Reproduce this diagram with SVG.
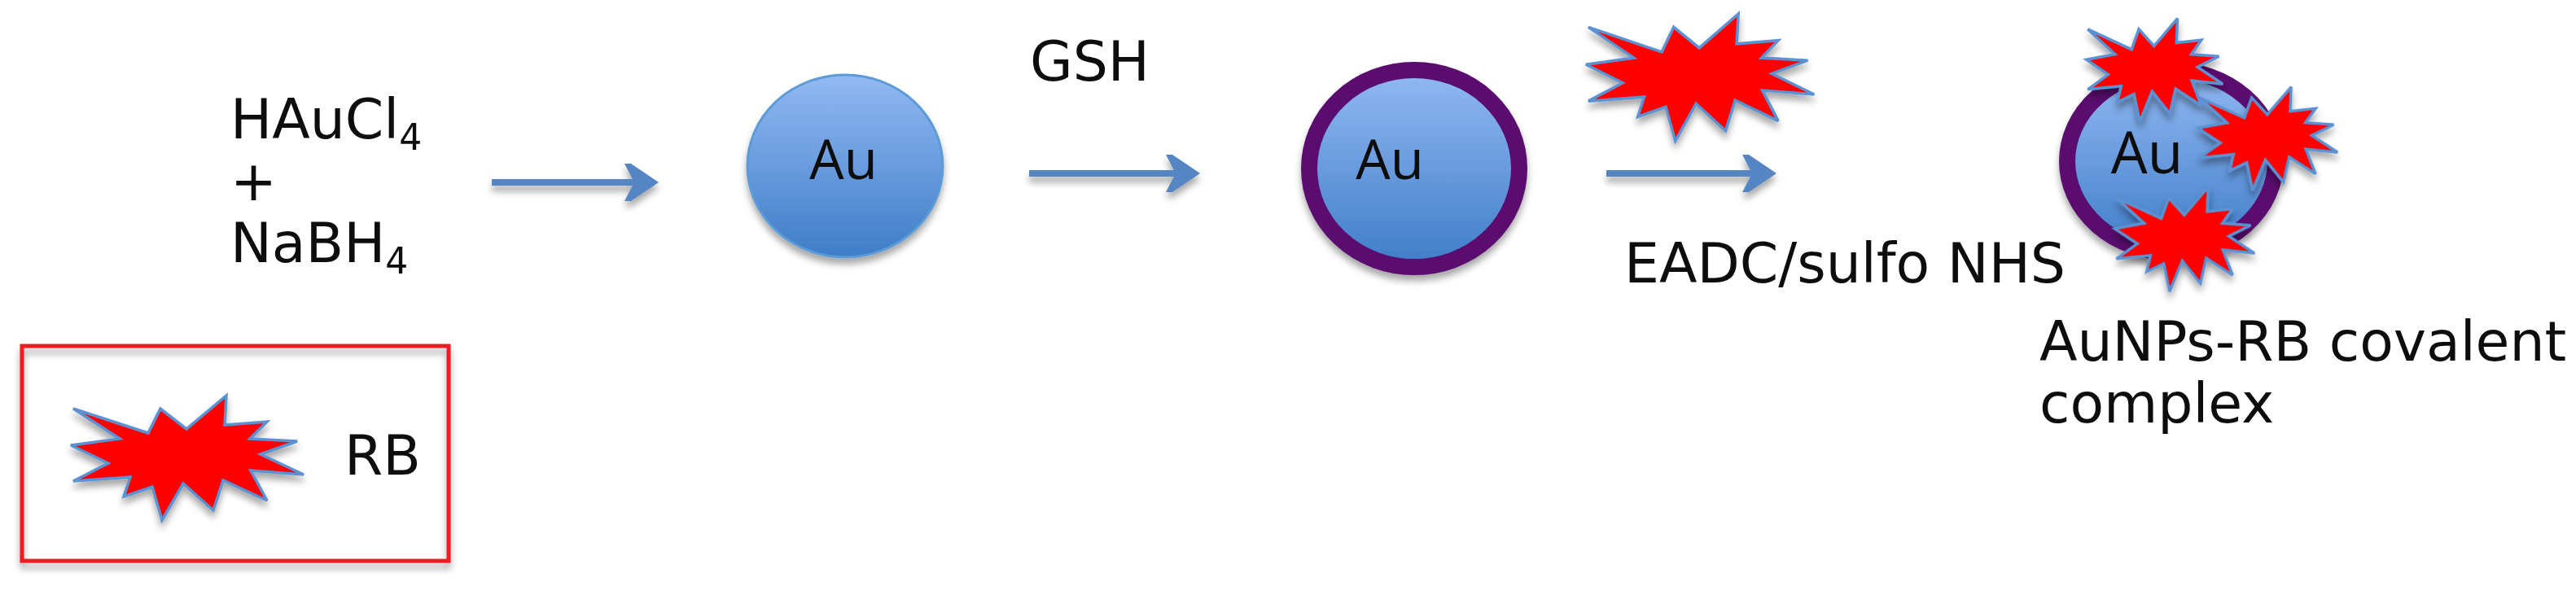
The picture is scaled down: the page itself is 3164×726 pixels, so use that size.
<svg xmlns="http://www.w3.org/2000/svg" width="3164" height="726" viewBox="0 0 3164 726">
<style>
text{font-family:"DejaVu Sans","Liberation Sans",sans-serif;font-size:68px;fill:#0c0c0c}
.au{font-family:"Open Sans","Liberation Sans",sans-serif;font-size:67px}
.au-big{font-size:71px}
.t{filter:url(#soft)}
.sub{font-size:44px}
.star{fill:#ff0000;stroke:#5b92d2;stroke-width:3.5;stroke-linejoin:miter;stroke-miterlimit:3;vector-effect:non-scaling-stroke}
.arrow{fill:none;stroke:#5585c2;stroke-width:8;marker-end:url(#head)}
.core{fill:url(#gold);stroke:#5b9bd5;stroke-width:3}
.ring{fill:url(#gold);stroke:#5a0a6e;stroke-width:20}
</style>
<defs>
<linearGradient id="gold" x1="0" y1="0" x2="0" y2="1"><stop offset="0" stop-color="#92b9f3"/><stop offset="1" stop-color="#3f7dc8"/></linearGradient>
<filter id="shadow" filterUnits="userSpaceOnUse" x="0" y="0" width="3164" height="726"><feDropShadow dx="0" dy="7" stdDeviation="4" flood-color="#000" flood-opacity=".35"/></filter>
<filter id="soft" filterUnits="userSpaceOnUse" x="0" y="0" width="3164" height="726"><feGaussianBlur stdDeviation=".7"/></filter>
<marker id="head" markerUnits="userSpaceOnUse" markerWidth="46" markerHeight="50" refX="36" refY="25" orient="auto" overflow="visible"><path d="M0,2 L8,2 L42,25 L8,48 L0,48 L12,25 Z" fill="#5585c2"/></marker>
<polygon id="burst" class="star" points="4,18 96,48 111,18 143,43 192,2 190,38 242,34 221,55 279,58 234,74 287,99 222,94 242,131 188,106 176,143 139,110 113,155 101,114 66,126 74,102 4,107 47,85 1,63 61,55"/>
</defs>
<rect width="3164" height="726" fill="#fff"/>
<g id="connectors" filter="url(#shadow)">
<line class="arrow" x1="604" y1="224" x2="803" y2="224"/>
<line class="arrow" x1="1264" y1="213" x2="1468" y2="213"/>
<line class="arrow" x1="1973" y1="213" x2="2176" y2="213"/>
</g>
<g id="reactants"><text class="t" x="283" y="170">HAuCl<tspan class="sub" dy="14">4</tspan></text><text class="t" x="283" y="246">+</text><text class="t" x="283" y="322">NaBH<tspan class="sub" dy="14">4</tspan></text></g>
<g id="au-particle"><ellipse class="core" filter="url(#shadow)" cx="1038" cy="204" rx="120" ry="112"/><text class="au t" x="1036" y="220" text-anchor="middle">Au</text></g>
<g id="gsh-label"><text class="t" x="1265" y="99">GSH</text></g>
<g id="au-gsh-particle"><ellipse class="ring" filter="url(#shadow)" cx="1737" cy="207" rx="129" ry="121"/><text class="au t" x="1707" y="220" text-anchor="middle">Au</text></g>
<g id="rb-reagent" filter="url(#shadow)"><use href="#burst" transform="translate(1947,15) scale(.98,1.02)"/></g>
<g id="eadc-label"><text class="t" x="1995" y="347">EADC/sulfo NHS</text></g>
<g id="complex"><ellipse class="ring" filter="url(#shadow)" cx="2667" cy="198" rx="128" ry="112"/><text class="au au-big t" x="2637" y="213" text-anchor="middle">Au</text>
<g filter="url(#shadow)"><use href="#burst" transform="translate(2562,21) scale(.586,.83)"/><use href="#burst" transform="translate(2699,105) scale(.6,.83)"/><use href="#burst" transform="translate(2597,228) scale(.6,.84)"/></g></g>
<g id="complex-label"><text class="t" x="2505" y="443">AuNPs-RB covalent</text><text class="t" x="2505" y="519">complex</text></g>
<g id="legend"><rect x="27" y="425" width="524" height="264" fill="none" stroke="#f01c24" stroke-width="5" filter="url(#shadow)"/><g filter="url(#shadow)"><use href="#burst" transform="translate(86,484)"/></g><text class="t" x="423" y="583">RB</text></g>
</svg>
